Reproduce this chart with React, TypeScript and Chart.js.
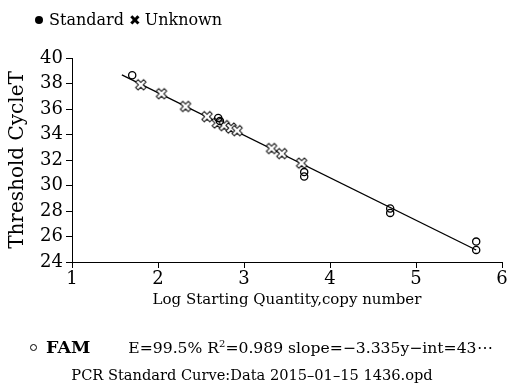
import React, { useEffect, useRef } from "react";
import { Chart, registerables } from "chart.js";

Chart.register(...registerables);

// Standard points (open circles)
const standardX = [1.7, 2.7, 2.72, 3.7, 3.7, 4.7, 4.7, 5.7, 5.7];
const standardY = [38.65, 35.3, 35.05, 31.05, 30.7, 28.2, 27.85, 25.6, 24.95];

// Unknown points (crosses)
const unknownX = [1.8, 2.04, 2.32, 2.57, 2.69, 2.77, 2.85, 2.92, 3.32, 3.44, 3.67];
const unknownY = [37.9, 37.2, 36.2, 35.4, 34.9, 34.7, 34.5, 34.3, 32.9, 32.5, 31.75];

// Fitted standard curve end points
const fitX = [1.58, 5.7];
const fitY = [38.67, 24.94];

const xTicks = [1, 2, 3, 4, 5, 6];
const yTicks = [24, 26, 28, 30, 32, 34, 36, 38, 40];

const SERIF = "'DejaVu Serif', serif";

function makeCross(): HTMLCanvasElement {
  const s = 14;
  const c = document.createElement("canvas");
  c.width = s;
  c.height = s;
  const ctx = c.getContext("2d")!;
  ctx.translate(s / 2, s / 2);
  ctx.rotate(Math.PI / 4);
  const a = 1.7;
  const L = 5.6;
  const pts = [
    [-a, -L], [a, -L], [a, -a], [L, -a], [L, a], [a, a],
    [a, L], [-a, L], [-a, a], [-L, a], [-L, -a], [-a, -a],
  ];
  ctx.beginPath();
  pts.forEach(([px, py], i) => (i ? ctx.lineTo(px, py) : ctx.moveTo(px, py)));
  ctx.closePath();
  ctx.fillStyle = "#fff";
  ctx.fill();
  ctx.strokeStyle = "#000";
  ctx.lineWidth = 1;
  ctx.stroke();
  return c;
}

export default function App() {
  const ref = useRef<HTMLCanvasElement | null>(null);

  useEffect(() => {
    if (!ref.current) return;
    const cross = makeCross();
    const chart = new Chart(ref.current, {
      type: "scatter",
      data: {
        datasets: [
          {
            type: "line",
            label: "fit",
            data: fitX.map((x, i) => ({ x, y: fitY[i] })),
            borderColor: "#000",
            borderWidth: 1.3,
            pointRadius: 0,
            fill: false,
            order: 3,
          } as any,
          {
            label: "Unknown",
            data: unknownX.map((x, i) => ({ x, y: unknownY[i] })),
            pointStyle: cross as any,
            pointRadius: 7,
            order: 2,
          },
          {
            label: "Standard",
            data: standardX.map((x, i) => ({ x, y: standardY[i] })),
            pointStyle: "circle",
            pointRadius: 3.6,
            borderColor: "#000",
            backgroundColor: "rgba(0,0,0,0)",
            borderWidth: 1.3,
            order: 1,
          },
        ],
      },
      options: {
        animation: false,
        responsive: false,
        layout: { padding: { top: 58, left: 0, right: 0, bottom: 75 } },
        plugins: {
          legend: { display: false },
          tooltip: { enabled: false },
          title: { display: false },
        },
        scales: {
          x: {
            type: "linear",
            min: 1,
            max: 6,
            afterFit: (s: any) => {
              s.height = 50;
            },
            afterBuildTicks: (s: any) => {
              s.ticks = xTicks.map((v) => ({ value: v }));
            },
            ticks: {
              color: "#000",
              font: { family: SERIF, size: 18 },
              padding: 1,
              maxRotation: 0,
            },
            grid: {
              display: true,
              drawOnChartArea: false,
              drawTicks: true,
              tickLength: 6,
              color: "#000",
            },
            border: { display: true, color: "#000", width: 1 },
            title: {
              display: true,
              text: "Log Starting Quantity,copy number",
              color: "#000",
              font: { family: SERIF, size: 15 },
              padding: { top: 0, bottom: 3 },
            },
          },
          y: {
            type: "linear",
            min: 24,
            max: 40,
            afterFit: (s: any) => {
              s.width = 72;
            },
            afterBuildTicks: (s: any) => {
              s.ticks = yTicks.map((v) => ({ value: v }));
            },
            ticks: {
              color: "#000",
              font: { family: SERIF, size: 18 },
              padding: 3,
            },
            grid: {
              display: true,
              drawOnChartArea: false,
              drawTicks: true,
              tickLength: 6,
              color: "#000",
            },
            border: { display: true, color: "#000", width: 1 },
            title: {
              display: true,
              text: "Threshold CycleT",
              color: "#000",
              font: { family: SERIF, size: 20 },
              padding: { top: 6, bottom: 0 },
            },
          },
        },
      },
    });
    return () => chart.destroy();
  }, []);

  return (
    <div style={{ position: "relative", width: 510, height: 387, background: "#fff", overflow: "hidden" }}>
      <style>{`body{margin:0;background:#fff}`}</style>
      <canvas ref={ref} width={510} height={387} style={{ position: "absolute", left: 0, top: 0 }} />
      <div
        style={{
          position: "absolute",
          left: 35,
          top: 10,
          fontFamily: SERIF,
          fontSize: 16,
          lineHeight: "20px",
          whiteSpace: "nowrap",
          color: "#000",
        }}
      >
        <span
          style={{
            display: "inline-block",
            width: 8,
            height: 8,
            borderRadius: "50%",
            background: "#000",
            marginRight: 6,
            verticalAlign: "1px",
          }}
        />
        <span>Standard</span>
        <span style={{ fontFamily: "'DejaVu Sans', sans-serif", fontSize: 14, margin: "0 4px 0 5px" }}>✖</span>
        <span>Unknown</span>
      </div>
      <div
        style={{
          position: "absolute",
          left: 30,
          top: 337,
          fontFamily: SERIF,
          fontSize: 15.6,
          lineHeight: "20px",
          whiteSpace: "nowrap",
          color: "#000",
        }}
      >
        <span
          style={{
            display: "inline-block",
            width: 5,
            height: 5,
            borderRadius: "50%",
            border: "1.3px solid #000",
            marginRight: 9,
            verticalAlign: "2px",
          }}
        />
        <span style={{ fontWeight: "bold", fontSize: 17.5 }}>FAM</span>
        <span style={{ marginLeft: 38 }}>
          E=99.5% R<sup style={{ fontSize: 10, lineHeight: 0 }}>2</sup>=0.989 slope=−3.335y−int=43⋯
        </span>
      </div>
      <div
        style={{
          position: "absolute",
          left: 0,
          width: 504,
          top: 365,
          textAlign: "center",
          fontFamily: SERIF,
          fontSize: 14.6,
          lineHeight: "20px",
          whiteSpace: "nowrap",
          color: "#000",
        }}
      >
        PCR Standard Curve:Data 2015–01–15 1436.opd
      </div>
    </div>
  );
}
